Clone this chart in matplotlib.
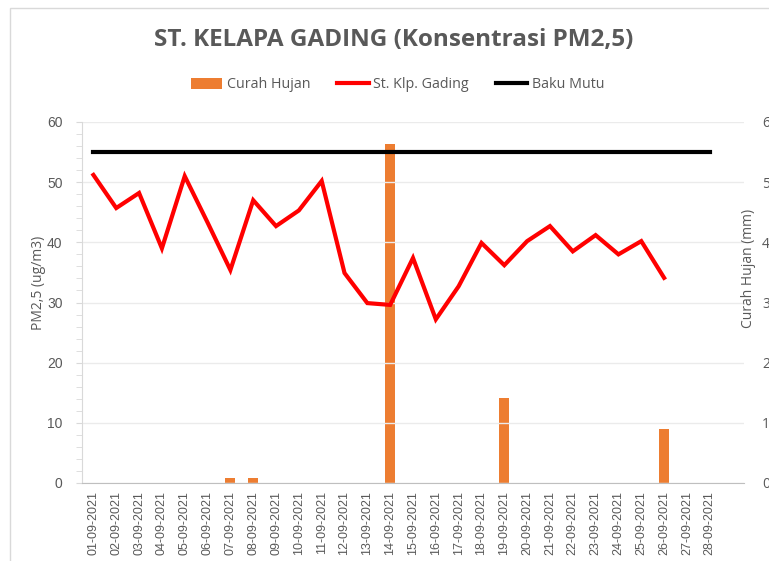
import matplotlib
matplotlib.use("Agg")
import matplotlib.pyplot as plt
from matplotlib.patches import Rectangle
from matplotlib.ticker import MultipleLocator
import numpy as np

dates = ["01-09-2021", "02-09-2021", "03-09-2021", "04-09-2021", "05-09-2021",
         "06-09-2021", "07-09-2021", "08-09-2021", "09-09-2021", "10-09-2021",
         "11-09-2021", "12-09-2021", "13-09-2021", "14-09-2021", "15-09-2021",
         "16-09-2021", "17-09-2021", "18-09-2021", "19-09-2021", "20-09-2021",
         "21-09-2021", "22-09-2021", "23-09-2021", "24-09-2021", "25-09-2021",
         "26-09-2021", "27-09-2021", "28-09-2021", ""]
pm25 = [51.2, 45.7, 48.2, 39.0, 51.0, 43.3, 35.4, 47.0, 42.7, 45.3,
        50.2, 34.9, 29.9, 29.6, 37.4, 27.2, 32.7, 39.9, 36.2, 40.2,
        42.7, 38.5, 41.2, 38.0, 40.2, 34.1]
rain = [0, 0, 0, 0, 0, 0, 0.8, 0.8, 0, 0,
        0, 0, 0, 56.4, 0, 0, 0, 0, 14.1, 0,
        0, 0, 0, 0, 0, 8.9, 0, 0]
baku_mutu = [55] * 28

grey = "#595959"
fig = plt.figure(figsize=(7.69, 5.61), dpi=100)
fig.patches.append(Rectangle((9.5 / 769, -0.1), 1.2, 1 - 7.5 / 561 + 0.1,
                             transform=fig.transFigure, fill=False,
                             edgecolor="#d9d9d9", lw=1))

ax = fig.add_axes([82 / 769, 78 / 561, 662 / 769, 361 / 561])
ax2 = ax.twinx()

x = np.arange(len(dates))
ax2.bar(x[:len(rain)], rain, width=0.44, color="#ed7d31", zorder=2, label="Curah Hujan")
l1, = ax.plot(x[:len(pm25)], pm25, color="#ff0000", lw=3, solid_joinstyle="miter",
              label="St. Klp. Gading", zorder=3)
l2, = ax.plot(x[:len(baku_mutu)], baku_mutu, color="black", lw=3,
              label="Baku Mutu", zorder=3)
ax.set_zorder(ax2.get_zorder() + 1)
ax.patch.set_visible(False)

for a in (ax, ax2):
    a.set_ylim(0, 60)
    a.set_xlim(-0.5, len(dates) - 0.5)
    for s in a.spines.values():
        s.set_visible(False)

ax.yaxis.set_major_locator(MultipleLocator(10))
ax.yaxis.set_minor_locator(MultipleLocator(2))
ax.grid(axis="y", color="#ebebeb", lw=1)
ax.set_axisbelow(True)
ax.spines["left"].set_visible(True)
ax.spines["left"].set_color("#d9d9d9")
ax.spines["bottom"].set_visible(True)
ax.spines["bottom"].set_color("#bfbfbf")
ax.tick_params(axis="y", which="both", color="#d9d9d9", length=4, labelcolor=grey,
               labelsize=10, pad=10)
for t in ax.get_yticklabels():
    t.set_family("Liberation Sans")
ax.set_xticks(x)
ax.set_xticklabels(dates, rotation=90, fontsize=9, family="Liberation Sans", color=grey)
ax.tick_params(axis="x", length=0, pad=6)

ax2.yaxis.set_major_locator(MultipleLocator(10))
ax2.tick_params(axis="y", length=0, pad=13, labelcolor=grey, labelsize=10)
for t in ax2.get_yticklabels():
    t.set_family("Open Sans")

fig.text(38 / 769, 1 - 283 / 561, "PM2,5 (ug/m3)", rotation=90, ha="center", va="center",
         fontsize=10, color=grey, family="Open Sans")
fig.text(748 / 769, 1 - 268 / 561, "Curah Hujan (mm)", rotation=90, ha="center",
         va="center", fontsize=10, color=grey, family="Open Sans")

fig.text(393.5 / 769, 1 - 40 / 561, "ST. KELAPA GADING (Konsentrasi PM2,5)",
         ha="center", va="center", fontsize=17.5, fontweight="bold", color=grey,
         family="Open Sans")

handles = [ax2.containers[0], l1, l2]
leg = fig.legend(handles, ["Curah Hujan", "St. Klp. Gading", "Baku Mutu"],
                 loc="center", bbox_to_anchor=(397.5 / 769, 1 - 85 / 561), ncol=3,
                 frameon=False, handlelength=2.2, handletextpad=0.3,
                 columnspacing=1.9, prop={"family": "Open Sans", "size": 10.3})
for t in leg.get_texts():
    t.set_color(grey)

fig.savefig("out.png", dpi=100)
